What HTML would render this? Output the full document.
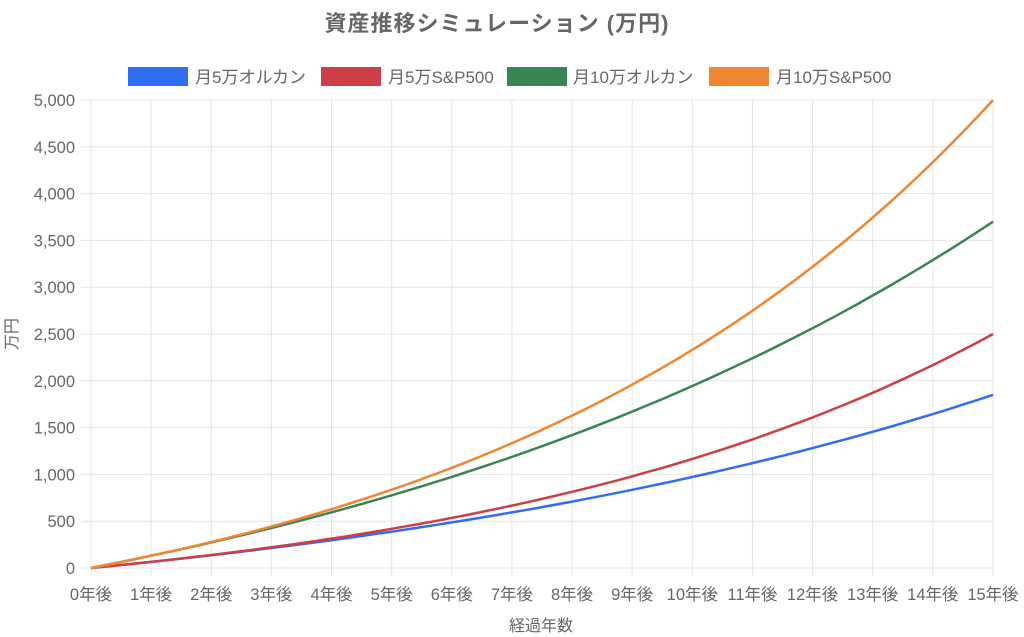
<!DOCTYPE html><html><head><meta charset="utf-8"><style>body{margin:0;background:#fff}svg{display:block}text{font-family:"Liberation Sans","Noto Sans CJK JP",sans-serif;fill:#666}</style></head><body>
<svg id="s" width="1024" height="637" xmlns="http://www.w3.org/2000/svg">
<text x="497" y="31" text-anchor="middle" font-size="22" font-weight="bold" letter-spacing="1">資産推移シミュレーション (万円)</text>
<rect x="128" y="67" width="60" height="19" fill="#2f6ef2"/><text x="195" y="83" font-size="17">月5万オルカン</text>
<rect x="321" y="67" width="60" height="19" fill="#cc3f47"/><text x="388" y="83" font-size="17">月5万S&amp;P500</text>
<rect x="507" y="67" width="60" height="19" fill="#3a8455"/><text x="573" y="83" font-size="17">月10万オルカン</text>
<rect x="709" y="67" width="60" height="19" fill="#ef8632"/><text x="776" y="83" font-size="17">月10万S&amp;P500</text>
<text x="541" y="631" text-anchor="middle" font-size="16">経過年数</text>
<text transform="translate(17,334) rotate(-90)" text-anchor="middle" font-size="16">万円</text>
<g id="g"></g>
</svg>
<script>
var g=document.getElementById('g'),h='';
var X0=91,X1=993,Y0=568,Y1=100;
function xp(i){return X0+(X1-X0)*i/15}function yp(v){return Y0-(Y0-Y1)*v/5000}
for(var k=0;k<=10;k++){var y=yp(k*500);h+='<line x1="81" x2="993" y1="'+y+'" y2="'+y+'" stroke="#e4e4e4"/>';
h+='<text x="75" y="'+(y+6)+'" text-anchor="end" font-size="16.5">'+(k*500).toLocaleString('en-US')+'</text>';}
for(var i=0;i<=15;i++){var x=xp(i);h+='<line x1="'+x+'" x2="'+x+'" y1="100" y2="576" stroke="#e4e4e4"/>';
h+='<text x="'+x+'" y="600" text-anchor="middle" font-size="16.5">'+i+'年後</text>';}
function ser(r,end,c){var f=function(n){return (Math.pow(1+r,n)-1)/r};var s=end/f(15),p='';
for(var n=0;n<=15;n+=0.25){p+=(n?'L':'M')+xp(n).toFixed(1)+','+yp(s*f(n)).toFixed(1)}
return '<path d="'+p+'" fill="none" stroke="'+c+'" stroke-width="2.5"/>';}
h+=ser(0.085,1850,'#2f6ef2')+ser(0.123,2500,'#cc3f47')+ser(0.085,3700,'#3a8455')+ser(0.123,5000,'#ef8632');
g.innerHTML=h;
</script>
</body></html>
